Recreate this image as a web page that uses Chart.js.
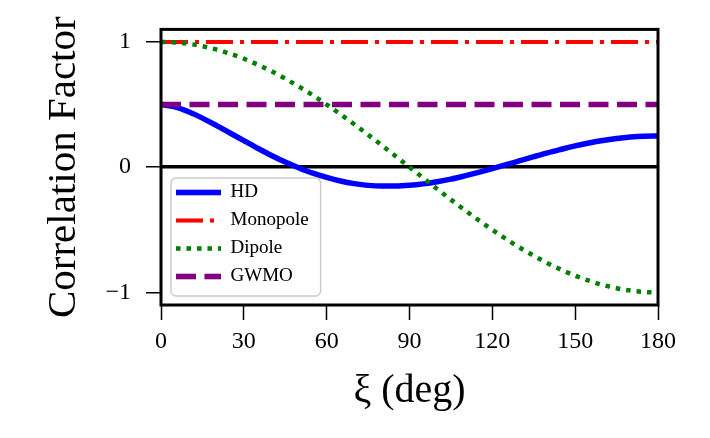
<!DOCTYPE html>
<html>
<head>
<meta charset="utf-8">
<script src="https://cdn.jsdelivr.net/npm/chart.js@4.4.1/dist/chart.umd.min.js"></script>
<style>
  html, body { margin: 0; padding: 0; background: #fff; }
  #wrap { width: 710px; height: 438px; }
</style>
</head>
<body>
<div id="wrap"><canvas id="myChart" width="710" height="438"></canvas></div>
<script>
// values
const hdXi = [0, 5, 10, 15, 20, 25, 30, 35, 40, 45, 50, 55, 60, 65, 70, 75, 80, 85, 90,
              95, 100, 105, 110, 115, 120, 125, 130, 135, 140, 145, 150, 155, 160, 165, 170, 175, 180]
const hdVals = [0.500, 0.482, 0.443, 0.392, 0.334, 0.273, 0.212, 0.151, 0.094, 0.041, -0.006, -0.048, -0.082, -0.110, -0.131, -0.145, -0.151, -0.151, -0.145,
                -0.133, -0.116, -0.095, -0.069, -0.041, -0.011, 0.020, 0.052, 0.084, 0.115, 0.143, 0.170, 0.193, 0.213, 0.229, 0.241, 0.248, 0.250]
const dipXi = [0, 5, 10, 15, 20, 25, 30, 35, 40, 45, 50, 55, 60, 65, 70, 75, 80, 85, 90,
               95, 100, 105, 110, 115, 120, 125, 130, 135, 140, 145, 150, 155, 160, 165, 170, 175, 180]
const dipVals = [1.000, 0.996, 0.985, 0.966, 0.940, 0.906, 0.866, 0.819, 0.766, 0.707, 0.643, 0.574, 0.500, 0.423, 0.342, 0.259, 0.174, 0.087, 0.000,
                 -0.087, -0.174, -0.259, -0.342, -0.423, -0.500, -0.574, -0.643, -0.707, -0.766, -0.819, -0.866, -0.906, -0.940, -0.966, -0.985, -0.996, -1.000]
const flatXi = [0, 180]
const monoVals = [1, 1]
const gwmoVals = [0.5, 0.5]
const xTicks = [0, 30, 60, 90, 120, 150, 180]
const yTicks = [-1, 0, 1]

const pts = (xs, ys) => xs.map((x, i) => ({x: x, y: ys[i]}))
const serif = 'Liberation Serif'
Chart.defaults.font.family = serif
Chart.defaults.color = '#000'

// black box round the axes, legend moved inside with a rounded frame
const framePlugin = {
    id: 'frame',
    afterLayout(chart) {
        const leg = chart.legend, a = chart.chartArea
        leg.left = a.left + 6
        leg.top = a.bottom - 131
        leg.right = leg.left + leg.width
        leg.bottom = leg.top + leg.height
    },
    afterDatasetsDraw(chart) {
        const leg = chart.legend, ctx = chart.ctx
        const hb = leg.legendHitBoxes
        if (!hb || !hb.length) return
        let right = 0
        hb.forEach(b => { right = Math.max(right, b.left + b.width) })
        const last = hb[hb.length - 1]
        const x0 = hb[0].left - 5, y0 = hb[0].top - 5
        const x1 = right + 12, y1 = last.top + last.height + 10
        ctx.save()
        ctx.beginPath()
        ctx.roundRect(x0, y0, x1 - x0, y1 - y0, 5)
        ctx.fillStyle = 'rgba(255,255,255,0.8)'
        ctx.fill()
        ctx.lineWidth = 1.5
        ctx.strokeStyle = '#cccccc'
        ctx.stroke()
        ctx.restore()
        leg.draw()
    },
    afterDraw(chart) {
        const a = chart.chartArea, ctx = chart.ctx
        ctx.save()
        ctx.lineWidth = 3
        ctx.strokeStyle = '#000'
        ctx.strokeRect(a.left, a.top, a.right - a.left, a.bottom - a.top)
        ctx.restore()
    }
}

const ctx = document.getElementById('myChart')
let myChart = new Chart(ctx, {
    type: 'line',
    data: {
        datasets: [{
            label: 'HD',
            data: pts(hdXi, hdVals),
            borderColor: '#0000ff',
            backgroundColor: '#0000ff',
            borderWidth: 5.5,
            cubicInterpolationMode: 'monotone',
            order: 4
        }, {
            label: 'Monopole',
            data: pts(flatXi, monoVals),
            borderColor: '#ff0000',
            backgroundColor: '#ff0000',
            borderWidth: 4,
            borderDash: [27, 7, 4, 7],
            order: 3
        }, {
            label: 'Dipole',
            data: pts(dipXi, dipVals),
            borderColor: '#008000',
            backgroundColor: '#008000',
            borderWidth: 4.5,
            borderDash: [4.5, 6],
            cubicInterpolationMode: 'monotone',
            order: 2
        }, {
            label: 'GWMO',
            data: pts(flatXi, gwmoVals),
            borderColor: '#800080',
            backgroundColor: '#800080',
            borderWidth: 5.5,
            borderDash: [20, 8.5],
            order: 1
        }]
    },
    options: {
        responsive: false,
        animation: false,
        devicePixelRatio: 1,
        layout: { padding: { left: 0, top: 29, right: 52, bottom: 0 } },
        datasets: { line: { pointRadius: 0, fill: false } },
        plugins: {
            tooltip: { enabled: false },
            legend: {
                position: 'chartArea',
                align: 'start',
                labels: {
                    usePointStyle: true,
                    pointStyle: 'line',
                    pointStyleWidth: 45,
                    boxHeight: 19,
                    padding: 9,
                    color: '#000',
                    font: { family: serif, size: 19 },
                    sort: (a, b) => a.datasetIndex - b.datasetIndex,
                    generateLabels: chart => {
                        const items = Chart.defaults.plugins.legend.labels.generateLabels(chart)
                        items.forEach(it => {
                            const ds = chart.data.datasets[it.datasetIndex]
                            it.lineWidth = ds.borderWidth
                            it.lineDash = ds.borderDash || []
                            it.strokeStyle = ds.borderColor
                            it.pointStyle = 'line'
                        })
                        return items
                    }
                }
            }
        },
        scales: {
            x: {
                type: 'linear',
                min: 0,
                max: 180,
                afterBuildTicks: s => { s.ticks = xTicks.map(v => ({value: v})) },
                afterFit: s => { s.height = 133 },
                border: { display: false },
                grid: { drawOnChartArea: false, tickLength: 15, tickColor: '#000', tickWidth: 1.5 },
                ticks: { font: { size: 24 }, color: '#000', padding: 7, maxRotation: 0, autoSkip: false },
                title: { display: true, text: 'ξ (deg)', color: '#000', font: { size: 40 }, padding: { top: 0, bottom: 23 } }
            },
            y: {
                type: 'linear',
                min: -1.1,
                max: 1.1,
                afterBuildTicks: s => { s.ticks = yTicks.map(v => ({value: v})) },
                afterFit: s => { s.width = 161 },
                border: { display: false },
                grid: {
                    color: c => (c.tick && c.tick.value === 0) ? '#000' : 'rgba(0,0,0,0)',
                    lineWidth: 3.5,
                    tickLength: 15,
                    tickColor: '#000',
                    tickWidth: 1.5
                },
                ticks: {
                    font: { size: 24 },
                    color: '#000',
                    padding: 15,
                    callback: v => v < 0 ? '\u2212' + Math.abs(v) : String(v)
                },
                title: { display: true, text: 'Correlation Factor', color: '#000', font: { size: 41 }, padding: { top: 40, bottom: 0 } }
            }
        }
    },
    plugins: [framePlugin]
})
</script>
</body>
</html>
